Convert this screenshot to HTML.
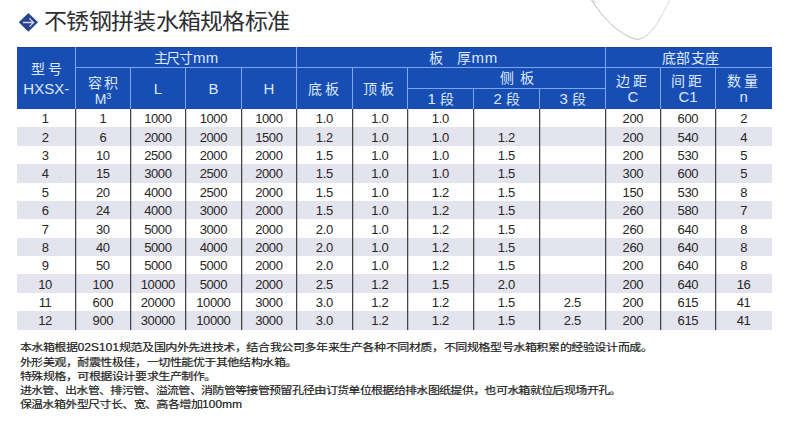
<!DOCTYPE html>
<html lang="zh-CN"><head><meta charset="utf-8"><title>不锈钢拼装水箱规格标准</title>
<style>
*{margin:0;padding:0;box-sizing:border-box}
html,body{width:800px;height:424px;overflow:hidden;background:#fff}
body{position:relative;font-family:"Liberation Sans",sans-serif;color:#333}
.a{position:absolute}
.hd{position:absolute;color:#dce8ff;font-size:14px;line-height:16px;text-align:center;white-space:nowrap}
.cj{letter-spacing:3px}
.dt{position:absolute;font-size:13px;line-height:15px;text-align:center;color:#262626;white-space:nowrap;letter-spacing:-0.4px;text-indent:-0.4px}
.ft{position:absolute;left:19.5px;font-size:12px;line-height:14px;color:#262626;white-space:nowrap;text-shadow:0.4px 0 0 rgba(40,40,40,.55);transform:scaleY(.87);transform-origin:0 50%}
.ft b{font-weight:400;font-size:12px;letter-spacing:0}
</style></head><body>

<svg class="a" style="left:17px;top:11px" width="24" height="24" viewBox="0 0 24 24"><path d="M11.4 1.9 L21 11.35 L11.4 20.8 L1.8 11.35 Z" fill="#29448f"/><path d="M6 11.5 H16.2 M12.4 7.4 L16.6 11.5 L12.4 15.6" stroke="#d4d8ff" stroke-width="1.3" fill="none"/></svg>
<div class="a" style="left:44px;top:8px;font-size:23px;line-height:26px;letter-spacing:-0.7px;color:#2e2e33;white-space:nowrap;transform:scaleY(.92);transform-origin:0 22px">不锈钢拼装水箱规格标准</div>
<svg class="a" style="left:580px;top:0" width="100" height="45" viewBox="0 0 100 45"><defs><linearGradient id="g" x1="0" y1="0" x2="100" y2="0" gradientUnits="userSpaceOnUse"><stop offset="0" stop-color="#a8a8a8"/><stop offset=".55" stop-color="#b8b8b8"/><stop offset="1" stop-color="#e4e4e4"/></linearGradient></defs><path d="M11 -1 C 15 6, 24 18, 34 27 C 41 32, 49 38.5, 57 39.4 C 65 39.2, 72 31, 78 22 C 82 15, 87 6, 90 -1" stroke="url(#g)" stroke-width="0.9" fill="none"/><path d="M12.5 1.5 C 14 0.5, 15.5 1.5, 16.5 2.5" stroke="#c4c4c4" stroke-width="0.8" fill="none"/></svg>
<div class="a" style="left:17px;top:47px;width:755px;height:62px;background:#184eb4"></div>
<div class="a" style="left:17px;top:47px;width:755px;height:1px;background:#1f4290"></div>
<div class="a" style="left:17px;top:127.375px;width:755px;height:18.375px;background:#e4e4ee"></div>
<div class="a" style="left:17px;top:164.125px;width:755px;height:18.375px;background:#e4e4ee"></div>
<div class="a" style="left:17px;top:200.875px;width:755px;height:18.375px;background:#e4e4ee"></div>
<div class="a" style="left:17px;top:237.625px;width:755px;height:18.375px;background:#e4e4ee"></div>
<div class="a" style="left:17px;top:274.375px;width:755px;height:18.375px;background:#e4e4ee"></div>
<div class="a" style="left:17px;top:311.125px;width:755px;height:18.375px;background:#e4e4ee"></div>
<div class="a" style="left:75.5px;top:67.0px;width:696.5px;height:1px;background:#7aa8f4"></div>
<div class="a" style="left:407.5px;top:88.0px;width:198.0px;height:1px;background:#7aa8f4"></div>
<div class="a" style="left:75.0px;top:47px;width:1px;height:62px;background:#7aa8f4"></div>
<div class="a" style="left:296.0px;top:47px;width:1px;height:62px;background:#7aa8f4"></div>
<div class="a" style="left:605.0px;top:47px;width:1px;height:62px;background:#7aa8f4"></div>
<div class="a" style="left:130.0px;top:67.5px;width:1px;height:41.5px;background:#7aa8f4"></div>
<div class="a" style="left:185.0px;top:67.5px;width:1px;height:41.5px;background:#7aa8f4"></div>
<div class="a" style="left:241.0px;top:67.5px;width:1px;height:41.5px;background:#7aa8f4"></div>
<div class="a" style="left:352.0px;top:67.5px;width:1px;height:41.5px;background:#7aa8f4"></div>
<div class="a" style="left:407.0px;top:67.5px;width:1px;height:41.5px;background:#7aa8f4"></div>
<div class="a" style="left:660.0px;top:67.5px;width:1px;height:41.5px;background:#7aa8f4"></div>
<div class="a" style="left:715.0px;top:67.5px;width:1px;height:41.5px;background:#7aa8f4"></div>
<div class="a" style="left:473.0px;top:88.5px;width:1px;height:20.5px;background:#7aa8f4"></div>
<div class="a" style="left:539.0px;top:88.5px;width:1px;height:20.5px;background:#7aa8f4"></div>
<div class="a" style="left:75.0px;top:109px;width:1px;height:220.5px;background:#444"></div>
<div class="a" style="left:76.0px;top:109px;width:1px;height:220.5px;background:rgba(60,60,60,.25)"></div>
<div class="a" style="left:130.0px;top:109px;width:1px;height:220.5px;background:#444"></div>
<div class="a" style="left:131.0px;top:109px;width:1px;height:220.5px;background:rgba(60,60,60,.25)"></div>
<div class="a" style="left:185.0px;top:109px;width:1px;height:220.5px;background:#444"></div>
<div class="a" style="left:186.0px;top:109px;width:1px;height:220.5px;background:rgba(60,60,60,.25)"></div>
<div class="a" style="left:241.0px;top:109px;width:1px;height:220.5px;background:#444"></div>
<div class="a" style="left:242.0px;top:109px;width:1px;height:220.5px;background:rgba(60,60,60,.25)"></div>
<div class="a" style="left:296.0px;top:109px;width:1px;height:220.5px;background:#444"></div>
<div class="a" style="left:297.0px;top:109px;width:1px;height:220.5px;background:rgba(60,60,60,.25)"></div>
<div class="a" style="left:352.0px;top:109px;width:1px;height:220.5px;background:#444"></div>
<div class="a" style="left:353.0px;top:109px;width:1px;height:220.5px;background:rgba(60,60,60,.25)"></div>
<div class="a" style="left:407.0px;top:109px;width:1px;height:220.5px;background:#444"></div>
<div class="a" style="left:408.0px;top:109px;width:1px;height:220.5px;background:rgba(60,60,60,.25)"></div>
<div class="a" style="left:473.0px;top:109px;width:1px;height:220.5px;background:#444"></div>
<div class="a" style="left:474.0px;top:109px;width:1px;height:220.5px;background:rgba(60,60,60,.25)"></div>
<div class="a" style="left:539.0px;top:109px;width:1px;height:220.5px;background:#444"></div>
<div class="a" style="left:540.0px;top:109px;width:1px;height:220.5px;background:rgba(60,60,60,.25)"></div>
<div class="a" style="left:605.0px;top:109px;width:1px;height:220.5px;background:#444"></div>
<div class="a" style="left:606.0px;top:109px;width:1px;height:220.5px;background:rgba(60,60,60,.25)"></div>
<div class="a" style="left:660.0px;top:109px;width:1px;height:220.5px;background:#444"></div>
<div class="a" style="left:661.0px;top:109px;width:1px;height:220.5px;background:rgba(60,60,60,.25)"></div>
<div class="a" style="left:715.0px;top:109px;width:1px;height:220.5px;background:#444"></div>
<div class="a" style="left:716.0px;top:109px;width:1px;height:220.5px;background:rgba(60,60,60,.25)"></div>
<div class="a" style="left:58.5px;top:176.5px;width:1px;height:1px;background:#bbb"></div>
<div class="hd" style="left:18.5px;width:58.5px;top:61px;"><span class="cj">型号</span></div>
<div class="hd" style="left:17px;width:58.5px;top:81px;"><span style="font-size:15px">HXSX-</span></div>
<div class="hd" style="left:75.5px;width:221.0px;top:50px;"><span class="cj" style="letter-spacing:-1.2px">主尺寸</span><span style="font-size:15px;letter-spacing:0.3px;margin-left:1px">mm</span></div>
<div class="hd" style="left:296.5px;width:309.0px;top:50px;"><span style="position:relative;left:12px"><span style="position:relative;left:1.5px">板</span>&nbsp;&nbsp;&nbsp;&nbsp;厚<span style="font-size:15px;letter-spacing:0.8px">mm</span></span></div>
<div class="hd" style="left:607.5px;width:166.5px;top:49.5px;"><span class="cj" style="letter-spacing:0.5px">底部支座</span></div>
<div class="hd" style="left:76.5px;width:55.0px;top:75px;"><span class="cj" style="letter-spacing:2px">容积</span></div>
<div class="hd" style="left:75.5px;width:55.0px;top:91px;">M<sup style="font-size:9px;vertical-align:5px;line-height:0">3</sup></div>
<div class="hd" style="left:130.5px;width:55.0px;top:81px;"><span style="font-size:15px">L</span></div>
<div class="hd" style="left:185.5px;width:56.0px;top:81px;"><span style="font-size:15px">B</span></div>
<div class="hd" style="left:241.5px;width:55.0px;top:81px;"><span style="font-size:15px">H</span></div>
<div class="hd" style="left:296.5px;width:56.0px;top:81px;"><span class="cj">底板</span></div>
<div class="hd" style="left:352.5px;width:55.0px;top:81px;"><span class="cj">顶板</span></div>
<div class="hd" style="left:407.5px;width:198.0px;top:70px;"><span class="cj" style="position:relative;left:13.5px;letter-spacing:6px">侧板</span></div>
<div class="hd" style="left:407.5px;width:66.0px;top:91px;"><span style="font-size:15px">1</span> 段</div>
<div class="hd" style="left:473.5px;width:66.0px;top:91px;"><span style="font-size:15px">2</span> 段</div>
<div class="hd" style="left:539.5px;width:66.0px;top:91px;"><span style="font-size:15px">3</span> 段</div>
<div class="hd" style="left:605.5px;width:55.0px;top:73px;"><span class="cj">边距</span></div>
<div class="hd" style="left:660.5px;width:55.0px;top:73px;"><span class="cj">间距</span></div>
<div class="hd" style="left:715.5px;width:56.5px;top:73px;"><span class="cj">数量</span></div>
<div class="hd" style="left:605.5px;width:55.0px;top:89px;"><span style="font-size:15px">C</span></div>
<div class="hd" style="left:660.5px;width:55.0px;top:89px;"><span style="font-size:15px">C1</span></div>
<div class="hd" style="left:715.5px;width:56.5px;top:89px;"><span style="font-size:15px">n</span></div>
<div class="dt" style="left:16px;width:58.5px;top:111.29px">1</div>
<div class="dt" style="left:75.5px;width:55.0px;top:111.29px">1</div>
<div class="dt" style="left:130.5px;width:55.0px;top:111.29px">1000</div>
<div class="dt" style="left:185.5px;width:56.0px;top:111.29px">1000</div>
<div class="dt" style="left:241.5px;width:55.0px;top:111.29px">1000</div>
<div class="dt" style="left:296.5px;width:56.0px;top:111.29px">1.0</div>
<div class="dt" style="left:352.5px;width:55.0px;top:111.29px">1.0</div>
<div class="dt" style="left:407.5px;width:66.0px;top:111.29px">1.0</div>
<div class="dt" style="left:605.5px;width:55.0px;top:111.29px">200</div>
<div class="dt" style="left:660.5px;width:55.0px;top:111.29px">600</div>
<div class="dt" style="left:715.5px;width:56.5px;top:111.29px">2</div>
<div class="dt" style="left:16px;width:58.5px;top:129.66px">2</div>
<div class="dt" style="left:75.5px;width:55.0px;top:129.66px">6</div>
<div class="dt" style="left:130.5px;width:55.0px;top:129.66px">2000</div>
<div class="dt" style="left:185.5px;width:56.0px;top:129.66px">2000</div>
<div class="dt" style="left:241.5px;width:55.0px;top:129.66px">1500</div>
<div class="dt" style="left:296.5px;width:56.0px;top:129.66px">1.2</div>
<div class="dt" style="left:352.5px;width:55.0px;top:129.66px">1.0</div>
<div class="dt" style="left:407.5px;width:66.0px;top:129.66px">1.0</div>
<div class="dt" style="left:473.5px;width:66.0px;top:129.66px">1.2</div>
<div class="dt" style="left:605.5px;width:55.0px;top:129.66px">200</div>
<div class="dt" style="left:660.5px;width:55.0px;top:129.66px">540</div>
<div class="dt" style="left:715.5px;width:56.5px;top:129.66px">4</div>
<div class="dt" style="left:16px;width:58.5px;top:148.04px">3</div>
<div class="dt" style="left:75.5px;width:55.0px;top:148.04px">10</div>
<div class="dt" style="left:130.5px;width:55.0px;top:148.04px">2500</div>
<div class="dt" style="left:185.5px;width:56.0px;top:148.04px">2000</div>
<div class="dt" style="left:241.5px;width:55.0px;top:148.04px">2000</div>
<div class="dt" style="left:296.5px;width:56.0px;top:148.04px">1.5</div>
<div class="dt" style="left:352.5px;width:55.0px;top:148.04px">1.0</div>
<div class="dt" style="left:407.5px;width:66.0px;top:148.04px">1.0</div>
<div class="dt" style="left:473.5px;width:66.0px;top:148.04px">1.5</div>
<div class="dt" style="left:605.5px;width:55.0px;top:148.04px">200</div>
<div class="dt" style="left:660.5px;width:55.0px;top:148.04px">530</div>
<div class="dt" style="left:715.5px;width:56.5px;top:148.04px">5</div>
<div class="dt" style="left:16px;width:58.5px;top:166.41px">4</div>
<div class="dt" style="left:75.5px;width:55.0px;top:166.41px">15</div>
<div class="dt" style="left:130.5px;width:55.0px;top:166.41px">3000</div>
<div class="dt" style="left:185.5px;width:56.0px;top:166.41px">2500</div>
<div class="dt" style="left:241.5px;width:55.0px;top:166.41px">2000</div>
<div class="dt" style="left:296.5px;width:56.0px;top:166.41px">1.5</div>
<div class="dt" style="left:352.5px;width:55.0px;top:166.41px">1.0</div>
<div class="dt" style="left:407.5px;width:66.0px;top:166.41px">1.0</div>
<div class="dt" style="left:473.5px;width:66.0px;top:166.41px">1.5</div>
<div class="dt" style="left:605.5px;width:55.0px;top:166.41px">300</div>
<div class="dt" style="left:660.5px;width:55.0px;top:166.41px">600</div>
<div class="dt" style="left:715.5px;width:56.5px;top:166.41px">5</div>
<div class="dt" style="left:16px;width:58.5px;top:184.79px">5</div>
<div class="dt" style="left:75.5px;width:55.0px;top:184.79px">20</div>
<div class="dt" style="left:130.5px;width:55.0px;top:184.79px">4000</div>
<div class="dt" style="left:185.5px;width:56.0px;top:184.79px">2500</div>
<div class="dt" style="left:241.5px;width:55.0px;top:184.79px">2000</div>
<div class="dt" style="left:296.5px;width:56.0px;top:184.79px">1.5</div>
<div class="dt" style="left:352.5px;width:55.0px;top:184.79px">1.0</div>
<div class="dt" style="left:407.5px;width:66.0px;top:184.79px">1.2</div>
<div class="dt" style="left:473.5px;width:66.0px;top:184.79px">1.5</div>
<div class="dt" style="left:605.5px;width:55.0px;top:184.79px">150</div>
<div class="dt" style="left:660.5px;width:55.0px;top:184.79px">530</div>
<div class="dt" style="left:715.5px;width:56.5px;top:184.79px">8</div>
<div class="dt" style="left:16px;width:58.5px;top:203.16px">6</div>
<div class="dt" style="left:75.5px;width:55.0px;top:203.16px">24</div>
<div class="dt" style="left:130.5px;width:55.0px;top:203.16px">4000</div>
<div class="dt" style="left:185.5px;width:56.0px;top:203.16px">3000</div>
<div class="dt" style="left:241.5px;width:55.0px;top:203.16px">2000</div>
<div class="dt" style="left:296.5px;width:56.0px;top:203.16px">1.5</div>
<div class="dt" style="left:352.5px;width:55.0px;top:203.16px">1.0</div>
<div class="dt" style="left:407.5px;width:66.0px;top:203.16px">1.2</div>
<div class="dt" style="left:473.5px;width:66.0px;top:203.16px">1.5</div>
<div class="dt" style="left:605.5px;width:55.0px;top:203.16px">260</div>
<div class="dt" style="left:660.5px;width:55.0px;top:203.16px">580</div>
<div class="dt" style="left:715.5px;width:56.5px;top:203.16px">7</div>
<div class="dt" style="left:16px;width:58.5px;top:221.54px">7</div>
<div class="dt" style="left:75.5px;width:55.0px;top:221.54px">30</div>
<div class="dt" style="left:130.5px;width:55.0px;top:221.54px">5000</div>
<div class="dt" style="left:185.5px;width:56.0px;top:221.54px">3000</div>
<div class="dt" style="left:241.5px;width:55.0px;top:221.54px">2000</div>
<div class="dt" style="left:296.5px;width:56.0px;top:221.54px">2.0</div>
<div class="dt" style="left:352.5px;width:55.0px;top:221.54px">1.0</div>
<div class="dt" style="left:407.5px;width:66.0px;top:221.54px">1.2</div>
<div class="dt" style="left:473.5px;width:66.0px;top:221.54px">1.5</div>
<div class="dt" style="left:605.5px;width:55.0px;top:221.54px">260</div>
<div class="dt" style="left:660.5px;width:55.0px;top:221.54px">640</div>
<div class="dt" style="left:715.5px;width:56.5px;top:221.54px">8</div>
<div class="dt" style="left:16px;width:58.5px;top:239.91px">8</div>
<div class="dt" style="left:75.5px;width:55.0px;top:239.91px">40</div>
<div class="dt" style="left:130.5px;width:55.0px;top:239.91px">5000</div>
<div class="dt" style="left:185.5px;width:56.0px;top:239.91px">4000</div>
<div class="dt" style="left:241.5px;width:55.0px;top:239.91px">2000</div>
<div class="dt" style="left:296.5px;width:56.0px;top:239.91px">2.0</div>
<div class="dt" style="left:352.5px;width:55.0px;top:239.91px">1.0</div>
<div class="dt" style="left:407.5px;width:66.0px;top:239.91px">1.2</div>
<div class="dt" style="left:473.5px;width:66.0px;top:239.91px">1.5</div>
<div class="dt" style="left:605.5px;width:55.0px;top:239.91px">260</div>
<div class="dt" style="left:660.5px;width:55.0px;top:239.91px">640</div>
<div class="dt" style="left:715.5px;width:56.5px;top:239.91px">8</div>
<div class="dt" style="left:16px;width:58.5px;top:258.29px">9</div>
<div class="dt" style="left:75.5px;width:55.0px;top:258.29px">50</div>
<div class="dt" style="left:130.5px;width:55.0px;top:258.29px">5000</div>
<div class="dt" style="left:185.5px;width:56.0px;top:258.29px">5000</div>
<div class="dt" style="left:241.5px;width:55.0px;top:258.29px">2000</div>
<div class="dt" style="left:296.5px;width:56.0px;top:258.29px">2.0</div>
<div class="dt" style="left:352.5px;width:55.0px;top:258.29px">1.0</div>
<div class="dt" style="left:407.5px;width:66.0px;top:258.29px">1.2</div>
<div class="dt" style="left:473.5px;width:66.0px;top:258.29px">1.5</div>
<div class="dt" style="left:605.5px;width:55.0px;top:258.29px">200</div>
<div class="dt" style="left:660.5px;width:55.0px;top:258.29px">640</div>
<div class="dt" style="left:715.5px;width:56.5px;top:258.29px">8</div>
<div class="dt" style="left:16px;width:58.5px;top:276.66px">10</div>
<div class="dt" style="left:75.5px;width:55.0px;top:276.66px">100</div>
<div class="dt" style="left:130.5px;width:55.0px;top:276.66px">10000</div>
<div class="dt" style="left:185.5px;width:56.0px;top:276.66px">5000</div>
<div class="dt" style="left:241.5px;width:55.0px;top:276.66px">2000</div>
<div class="dt" style="left:296.5px;width:56.0px;top:276.66px">2.5</div>
<div class="dt" style="left:352.5px;width:55.0px;top:276.66px">1.2</div>
<div class="dt" style="left:407.5px;width:66.0px;top:276.66px">1.5</div>
<div class="dt" style="left:473.5px;width:66.0px;top:276.66px">2.0</div>
<div class="dt" style="left:605.5px;width:55.0px;top:276.66px">200</div>
<div class="dt" style="left:660.5px;width:55.0px;top:276.66px">640</div>
<div class="dt" style="left:715.5px;width:56.5px;top:276.66px">16</div>
<div class="dt" style="left:16px;width:58.5px;top:295.04px">11</div>
<div class="dt" style="left:75.5px;width:55.0px;top:295.04px">600</div>
<div class="dt" style="left:130.5px;width:55.0px;top:295.04px">20000</div>
<div class="dt" style="left:185.5px;width:56.0px;top:295.04px">10000</div>
<div class="dt" style="left:241.5px;width:55.0px;top:295.04px">3000</div>
<div class="dt" style="left:296.5px;width:56.0px;top:295.04px">3.0</div>
<div class="dt" style="left:352.5px;width:55.0px;top:295.04px">1.2</div>
<div class="dt" style="left:407.5px;width:66.0px;top:295.04px">1.2</div>
<div class="dt" style="left:473.5px;width:66.0px;top:295.04px">1.5</div>
<div class="dt" style="left:539.5px;width:66.0px;top:295.04px">2.5</div>
<div class="dt" style="left:605.5px;width:55.0px;top:295.04px">200</div>
<div class="dt" style="left:660.5px;width:55.0px;top:295.04px">615</div>
<div class="dt" style="left:715.5px;width:56.5px;top:295.04px">41</div>
<div class="dt" style="left:16px;width:58.5px;top:313.41px">12</div>
<div class="dt" style="left:75.5px;width:55.0px;top:313.41px">900</div>
<div class="dt" style="left:130.5px;width:55.0px;top:313.41px">30000</div>
<div class="dt" style="left:185.5px;width:56.0px;top:313.41px">10000</div>
<div class="dt" style="left:241.5px;width:55.0px;top:313.41px">3000</div>
<div class="dt" style="left:296.5px;width:56.0px;top:313.41px">3.0</div>
<div class="dt" style="left:352.5px;width:55.0px;top:313.41px">1.2</div>
<div class="dt" style="left:407.5px;width:66.0px;top:313.41px">1.2</div>
<div class="dt" style="left:473.5px;width:66.0px;top:313.41px">1.5</div>
<div class="dt" style="left:539.5px;width:66.0px;top:313.41px">2.5</div>
<div class="dt" style="left:605.5px;width:55.0px;top:313.41px">200</div>
<div class="dt" style="left:660.5px;width:55.0px;top:313.41px">615</div>
<div class="dt" style="left:715.5px;width:56.5px;top:313.41px">41</div>
<div class="ft" style="top:341.0px;letter-spacing:-0.4px">本水箱根据<b>02S101</b>规范及国内外先进技术，结合我公司多年来生产各种不同材质，不同规格型号水箱积累的经验设计而成。</div>
<div class="ft" style="top:355.8px;letter-spacing:-0.45px">外形美观，耐震性极佳，一切性能优于其他结构水箱。</div>
<div class="ft" style="top:369.8px;letter-spacing:-0.45px">特殊规格，可根据设计要求生产制作。</div>
<div class="ft" style="top:384.3px;letter-spacing:-0.66px">进水管、出水管、排污管、溢流管、消防管等接管预留孔径由订货单位根据给排水图纸提供，也可水箱就位后现场开孔。</div>
<div class="ft" style="top:398.3px;letter-spacing:-0.6px">保温水箱外型尺寸长、宽、高各增加<b>100mm</b></div>
</body></html>
